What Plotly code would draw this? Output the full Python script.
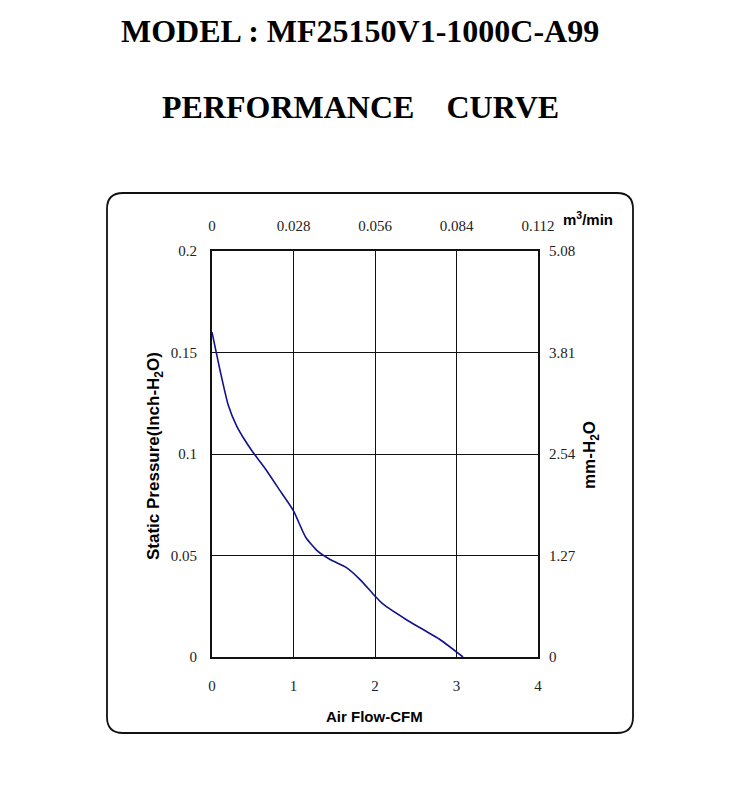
import plotly.graph_objects as go

# Data
airflow_cfm = [0, 0.1, 0.2, 0.3, 0.4, 0.5, 0.65, 0.85, 1.0, 1.15, 1.3, 1.45, 1.65, 1.82, 2.0, 2.1, 2.4, 2.8, 3.08]
pressure_inch = [0.160, 0.141, 0.124, 0.114, 0.107, 0.101, 0.093, 0.081, 0.072, 0.059, 0.052, 0.048, 0.044, 0.038, 0.030, 0.026, 0.018, 0.0085, 0.0]

cfm_ticks = [0, 1, 2, 3, 4]
inch_ticks = [0, 0.05, 0.1, 0.15, 0.2]
inch_tick_labels = ["0", "0.05", "0.1", "0.15", "0.2"]
m3_ticks = [0, 0.028, 0.056, 0.084, 0.112]
m3_tick_labels = ["0", "0.028", "0.056", "0.084", "0.112"]
mm_ticks = [0, 1.27, 2.54, 3.81, 5.08]
mm_tick_labels = ["0", "1.27", "2.54", "3.81", "5.08"]

CFM_TO_M3 = 0.028
INCH_TO_MM = 25.4

W, H = 745, 796
OFF = 8  # page body margin
def px(x): return (x - OFF) / W
def py(y): return 1 - (y - OFF) / H

serif = "Liberation Serif, Times New Roman, serif"
sans = "Liberation Sans, Arial, sans-serif"
tick_font = dict(family=serif, size=15, color="#222")

fig = go.Figure()
fig.add_trace(go.Scatter(
    x=airflow_cfm, y=pressure_inch, mode="lines",
    line=dict(color="#12128a", width=1.6, shape="spline", smoothing=0.6),
    xaxis="x", yaxis="y", showlegend=False, hoverinfo="x+y"))
fig.add_trace(go.Scatter(
    x=[v * CFM_TO_M3 for v in airflow_cfm], y=[v * INCH_TO_MM for v in pressure_inch],
    mode="lines", line=dict(color="rgba(0,0,0,0)", width=0),
    xaxis="x2", yaxis="y2", showlegend=False, hoverinfo="skip"))

xdom = [px(212), px(538)]
ydom = [py(657), py(251)]

fig.update_layout(
    width=W, height=H,
    margin=dict(l=0, r=0, t=0, b=0, autoexpand=False),
    paper_bgcolor="white", plot_bgcolor="white",
    xaxis=dict(domain=xdom, range=[0, 4], tickvals=cfm_ticks, ticks="",
               showgrid=True, gridcolor="#111", gridwidth=1,
               showline=True, linecolor="#111", linewidth=2, mirror=True,
               zeroline=False, tickfont=tick_font, ticklabelstandoff=14,
               fixedrange=True, anchor="y"),
    yaxis=dict(domain=ydom, range=[0, 0.2], tickvals=inch_ticks, ticktext=inch_tick_labels,
               ticks="", showgrid=True, gridcolor="#111", gridwidth=1,
               showline=True, linecolor="#111", linewidth=2, mirror=True,
               zeroline=False, tickfont=tick_font, ticklabelstandoff=10,
               fixedrange=True, anchor="x"),
    xaxis2=dict(domain=xdom, range=[0, 0.112], tickvals=m3_ticks, ticktext=m3_tick_labels,
                overlaying="x", side="top", anchor="y2", ticks="", showgrid=False,
                showline=False, zeroline=False, tickfont=tick_font, ticklabelstandoff=16,
                fixedrange=True),
    yaxis2=dict(domain=ydom, range=[0, 5.08], tickvals=mm_ticks, ticktext=mm_tick_labels,
                overlaying="y", side="right", anchor="x2", ticks="", showgrid=False,
                showline=False, zeroline=False, tickfont=tick_font, ticklabelstandoff=10,
                fixedrange=True),
)

# Rounded outer box
x0, x1, y0, y1 = 107, 633, 193, 733
r = 16
path = (f"M {px(x0 + r)},{py(y0)} L {px(x1 - r)},{py(y0)} Q {px(x1)},{py(y0)} {px(x1)},{py(y0 + r)} "
        f"L {px(x1)},{py(y1 - r)} Q {px(x1)},{py(y1)} {px(x1 - r)},{py(y1)} "
        f"L {px(x0 + r)},{py(y1)} Q {px(x0)},{py(y1)} {px(x0)},{py(y1 - r)} "
        f"L {px(x0)},{py(y0 + r)} Q {px(x0)},{py(y0)} {px(x0 + r)},{py(y0)} Z")
fig.add_shape(type="path", path=path, xref="paper", yref="paper",
              line=dict(color="#111", width=1.8), layer="below")

ann = []
ann.append(dict(text="<b>MODEL : MF25150V1-1000C-A99</b>", x=px(360), y=py(31),
                font=dict(family=serif, size=32, color="black")))
ann.append(dict(text="<b>PERFORMANCE\u00a0\u00a0\u00a0\u00a0CURVE</b>", x=px(360), y=py(107),
                font=dict(family=serif, size=32, color="black")))
ann.append(dict(text="<b>Air Flow-CFM</b>", x=px(374), y=py(716),
                font=dict(family=sans, size=15, color="black")))
ann.append(dict(text="<b>m<sup>3</sup>/min</b>", x=px(588), y=py(219),
                font=dict(family=sans, size=15, color="black")))
ann.append(dict(text="<b>Static Pressure(Inch-H<sub>2</sub>O)</b>", x=px(155), y=py(456),
                textangle=-90, font=dict(family=sans, size=17, color="black")))
ann.append(dict(text="<b>mm-H<sub>2</sub>O</b>", x=px(591), y=py(455),
                textangle=-90, font=dict(family=sans, size=17, color="black")))
for a in ann:
    a.update(xref="paper", yref="paper", showarrow=False, xanchor="center", yanchor="middle")
    fig.add_annotation(**a)

fig.write_html("out.html")
